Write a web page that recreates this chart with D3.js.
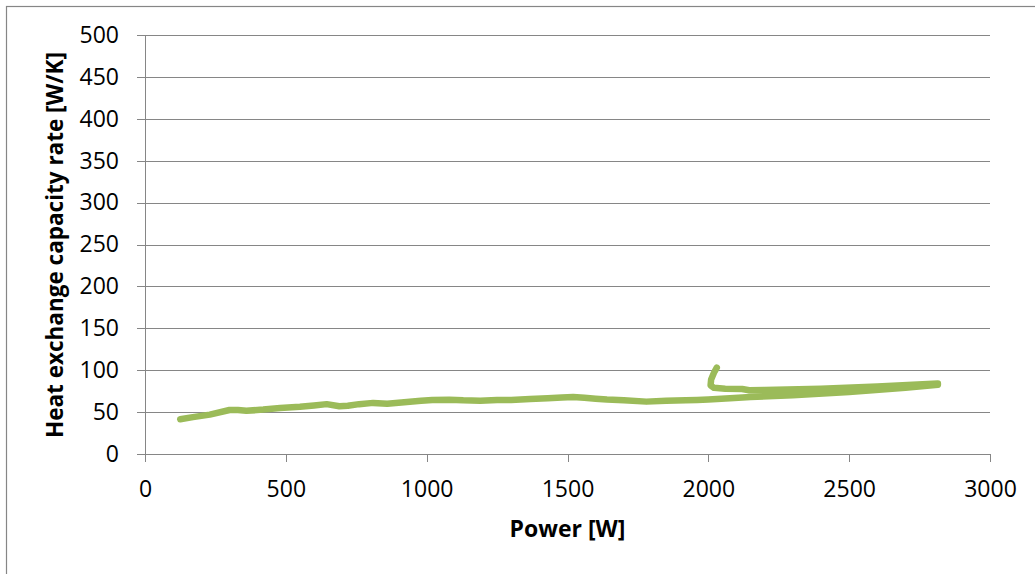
<!DOCTYPE html>
<html>
<head>
<meta charset="utf-8">
<script src="https://cdn.jsdelivr.net/npm/d3@7"></script>
<style>
  body { margin: 0; background: #fff; }
  svg { display: block; font-family: "Open Sans", sans-serif; }
</style>
</head>
<body>
<div id="chart"></div>
<script>
// Power [W] and heat exchange capacity rate [W/K], in the order the trace was drawn
var powerOut = [125, 170, 230, 300, 330, 360, 420, 480, 550, 600, 645, 690, 720, 760, 810, 860, 930, 980,
    1020, 1080, 1130, 1190, 1250, 1300, 1367, 1430, 1480, 1520, 1560, 1600, 1640, 1700, 1780, 1850,
    1920, 1960, 2000, 2077, 2150, 2300, 2500, 2700, 2815];
var rateOut = [41.5, 44, 47, 52.5, 52.5, 51.5, 53, 55, 56.5, 58, 59.5, 57, 57.5, 59.5, 61, 60, 62, 63.5,
    64.5, 64.8, 64, 63.5, 64.5, 64.5, 65.5, 66.5, 67.5, 68, 67, 66, 65, 64, 62.5, 63.5,
    64, 64.5, 65, 66.5, 68, 70, 74, 79, 82.5];
// coming back down from the top power
var powerBack = [2815, 2600, 2400, 2200, 2145, 2120, 2060, 2020, 2008, 2010, 2020, 2030];
var rateBack = [84, 80.5, 78, 76.5, 76, 77.5, 78, 79, 82, 89, 97, 103];

var xTicks = [0, 500, 1000, 1500, 2000, 2500, 3000];
var yTicks = [0, 50, 100, 150, 200, 250, 300, 350, 400, 450, 500];

var W = 1035, H = 574;
var plotLeft = 145, plotRight = 990, plotTop = 35, plotBottom = 454;
var gridColor = '#868686';
var lineColor = '#9bbb59';

var points = [];
powerOut.forEach(function (p, i) { points.push([p, rateOut[i]]); });
powerBack.forEach(function (p, i) { points.push([p, rateBack[i]]); });

var svg = d3.select('#chart')
    .append('svg')
    .attr('width', W)
    .attr('height', H);

// outer chart border
svg.append('rect')
    .attr('x', 6.5).attr('y', 6.5)
    .attr('width', W + 20).attr('height', H + 20)
    .attr('fill', 'none')
    .attr('stroke', gridColor)
    .attr('stroke-width', 1.2);

var x = d3.scaleLinear().domain([0, 3000]).range([plotLeft, plotRight]);
var y = d3.scaleLinear().domain([0, 500]).range([plotBottom, plotTop]);

// y axis with grid lines
var yAxis = svg.append('g')
    .attr('transform', 'translate(' + plotLeft + ',0)')
    .call(d3.axisLeft(y).tickValues(yTicks).tickFormat(d3.format('d'))
        .tickSize(-(plotRight - plotLeft)).tickSizeOuter(0).tickPadding(26));
yAxis.selectAll('.tick line').attr('x1', -8);

var xAxis = svg.append('g')
    .attr('transform', 'translate(0,' + plotBottom + ')')
    .call(d3.axisBottom(x).tickValues(xTicks).tickFormat(d3.format('d'))
        .tickSize(8).tickSizeOuter(0).tickPadding(19));

svg.selectAll('.domain, .tick line')
    .attr('stroke', gridColor)
    .attr('stroke-width', 1)
    .attr('shape-rendering', 'crispEdges');
svg.selectAll('.tick text')
    .attr('fill', '#000')
    .style('font-size', '23px')
    .style('font-family', '"Open Sans", sans-serif');

var line = d3.line()
    .x(function (d) { return x(d[0]); })
    .y(function (d) { return y(d[1]); });

svg.append('path')
    .datum(points)
    .attr('d', line)
    .attr('fill', 'none')
    .attr('stroke', lineColor)
    .attr('stroke-width', 6.5)
    .attr('stroke-linejoin', 'round')
    .attr('stroke-linecap', 'round');

// axis titles
svg.append('text')
    .attr('x', (plotLeft + plotRight) / 2)
    .attr('y', 537)
    .attr('text-anchor', 'middle')
    .style('font-size', '23px')
    .style('font-weight', 'bold')
    .text('Power [W]');

svg.append('text')
    .attr('transform', 'translate(63,245) rotate(-90)')
    .attr('text-anchor', 'middle')
    .attr('textLength', 386)
    .attr('lengthAdjust', 'spacingAndGlyphs')
    .style('font-size', '23px')
    .style('font-weight', 'bold')
    .text('Heat exchange capacity rate [W/K]');
</script>
</body>
</html>
